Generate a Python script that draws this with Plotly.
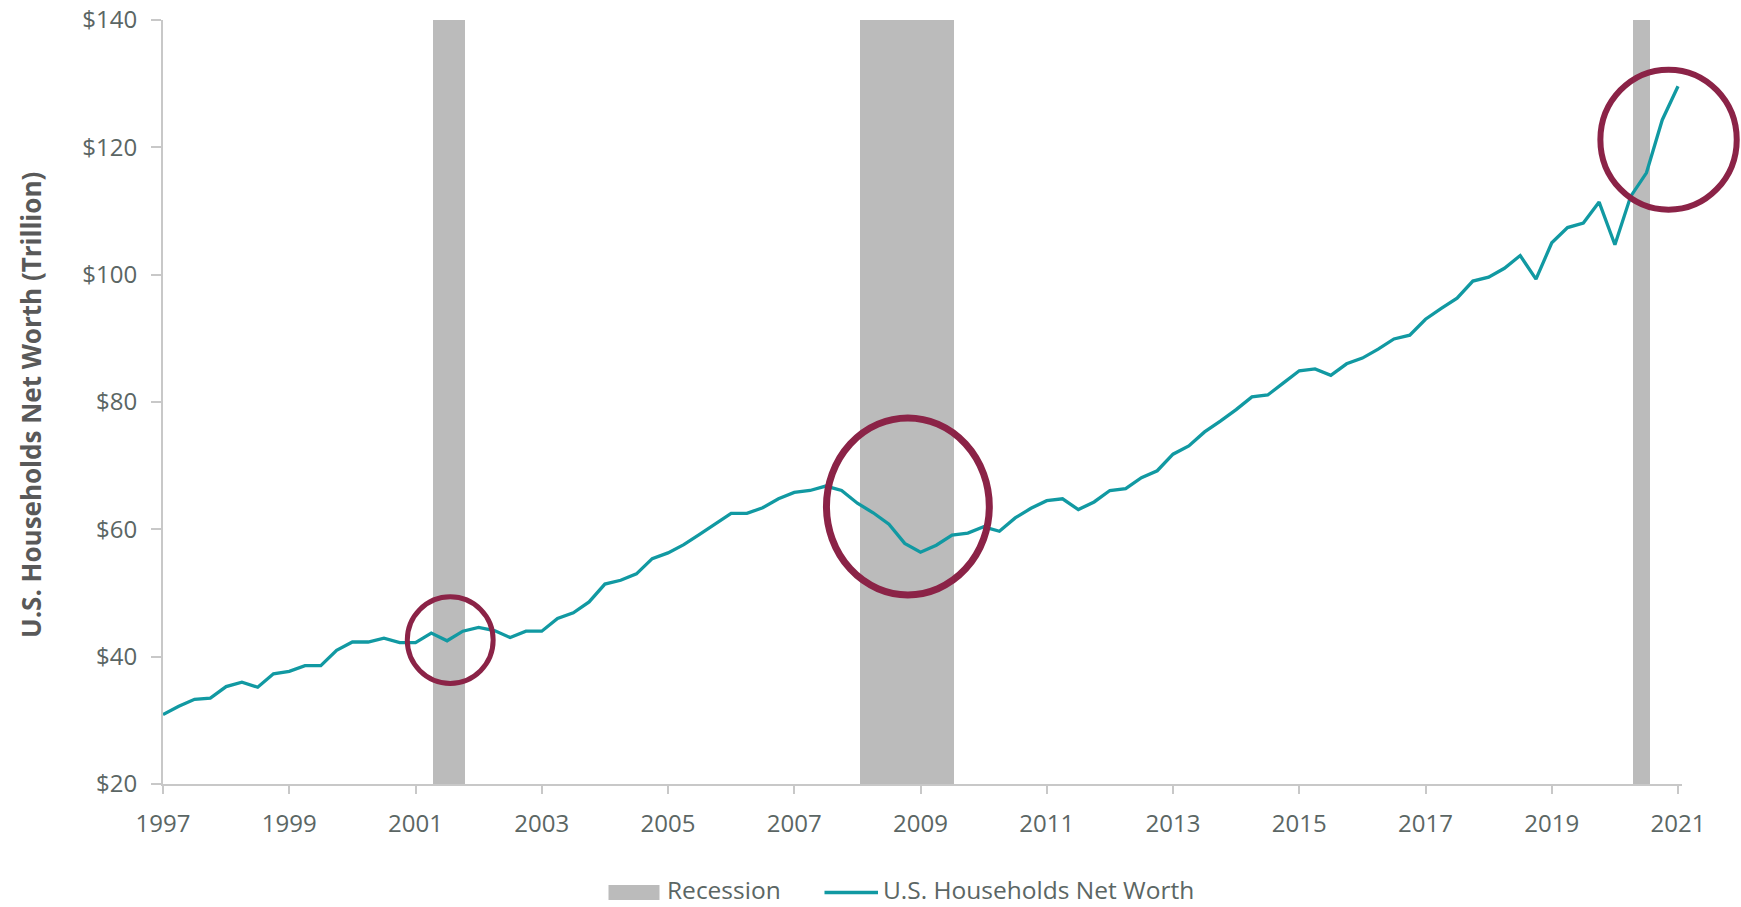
import plotly.graph_objects as go

# ---------------- data ----------------
first_year, last_year = 1997, 2021
quarter = [y + q / 4 for y in range(first_year, last_year) for q in range(4)] + [float(last_year)]

net_worth = [
    30.9, 32.2, 33.3, 33.5,   # 1997
    35.3, 36.0, 35.2, 37.3,   # 1998
    37.7, 38.6, 38.6, 41.0,   # 1999
    42.3, 42.3, 42.9, 42.2,   # 2000
    42.2, 43.7, 42.5, 44.0,   # 2001
    44.6, 44.1, 43.0, 44.0,   # 2002
    44.0, 46.0, 46.9, 48.6,   # 2003
    51.4, 52.0, 53.0, 55.4,   # 2004
    56.3, 57.6, 59.2, 60.8,   # 2005
    62.5, 62.5, 63.4, 64.8,   # 2006
    65.8, 66.1, 66.8, 66.1,   # 2007
    64.1, 62.6, 60.8, 57.8,   # 2008
    56.4, 57.5, 59.1, 59.4,   # 2009
    60.4, 59.7, 61.8, 63.3,   # 2010
    64.5, 64.8, 63.1, 64.3,   # 2011
    66.1, 66.4, 68.1, 69.2,   # 2012
    71.8, 73.1, 75.3, 77.0,   # 2013
    78.8, 80.8, 81.1, 83.0,   # 2014
    84.9, 85.2, 84.2, 86.0,   # 2015
    86.9, 88.3, 89.9, 90.5,   # 2016
    93.0, 94.7, 96.3, 99.0,   # 2017
    99.6, 101.0, 103.0, 99.3, # 2018
    105.0, 107.4, 108.1, 111.4,  # 2019
    104.7, 112.3, 116.0, 124.3,  # 2020
    129.6,                     # 2021
]

rec_start = [2001.28, 2008.04, 2020.28]
rec_end = [2001.78, 2009.53, 2020.56]

# highlight ellipses (data units)
circ_year = [2001.55, 2008.80, 2020.85]
circ_value = [42.6, 63.6, 121.2]
circ_rx_years = [0.68, 1.29, 1.08]
circ_ry_value = [6.8, 13.9, 11.0]

x_ticks = list(range(1997, 2022, 2))
y_ticks = [20, 40, 60, 80, 100, 120, 140]

series_name = "U.S. Households Net Worth"
recession_name = "Recession"
y_title = "U.S. Households Net Worth (Trillion)"

# ---------------- styling ----------------
W, H = 1741, 907
M_L, M_R, M_T, M_B = 163, 59, 20, 123
PW, PH = W - M_L - M_R, H - M_T - M_B
X_RANGE = [1997, 2021.063]
Y_RANGE = [20, 140]

TEAL = "#1199A2"
GREY = "#BBBBBB"
MAROON = "#8B2347"
AXIS = "#C8C8C8"
TXT = "#5B6664"
FONT = "Open Sans, Noto Sans, sans-serif"


def dx2paper(x):
    return (x - X_RANGE[0]) / (X_RANGE[1] - X_RANGE[0])


def dy2paper(y):
    return (y - Y_RANGE[0]) / (Y_RANGE[1] - Y_RANGE[0])


def px2paper_x(X):
    return (X - M_L) / PW


def px2paper_y(Y):
    return (H - M_B - Y) / PH


fig = go.Figure()

# recession shading
fig.add_trace(go.Bar(
    x=[(s + e) / 2 for s, e in zip(rec_start, rec_end)],
    y=[Y_RANGE[1] - Y_RANGE[0]] * len(rec_start),
    base=Y_RANGE[0],
    width=[e - s for s, e in zip(rec_start, rec_end)],
    marker=dict(color=GREY, line=dict(width=0)),
    name=recession_name,
    showlegend=False,
    hoverinfo="skip",
))

fig.add_trace(go.Scatter(
    x=quarter, y=net_worth, mode="lines",
    line=dict(color=TEAL, width=3.3),
    name=series_name, showlegend=False,
))

shapes = []
circ_widths = [5, 7, 6]
for cx, cy, rx, ry, lw in zip(circ_year, circ_value, circ_rx_years, circ_ry_value, circ_widths):
    shapes.append(dict(
        type="circle", xref="paper", yref="paper",
        x0=dx2paper(cx - rx), x1=dx2paper(cx + rx),
        y0=dy2paper(cy - ry), y1=dy2paper(cy + ry),
        line=dict(color=MAROON, width=lw), layer="above",
    ))

# manual legend
LEG_Y = 892.5
LEG_TXT_Y = 889.5
shapes.append(dict(type="rect", xref="paper", yref="paper",
                   x0=px2paper_x(608.5), x1=px2paper_x(659.5),
                   y0=px2paper_y(LEG_Y + 7.5), y1=px2paper_y(LEG_Y - 7.5),
                   fillcolor=GREY, line=dict(width=0)))
shapes.append(dict(type="line", xref="paper", yref="paper",
                   x0=px2paper_x(824.5), x1=px2paper_x(878),
                   y0=px2paper_y(LEG_Y), y1=px2paper_y(LEG_Y),
                   line=dict(color=TEAL, width=3.5)))

annotations = [
    dict(text=recession_name, xref="paper", yref="paper",
         x=px2paper_x(665), y=px2paper_y(LEG_TXT_Y), xanchor="left", yanchor="middle",
         showarrow=False, font=dict(family=FONT, size=24.5, color=TXT)),
    dict(text=series_name, xref="paper", yref="paper",
         x=px2paper_x(881), y=px2paper_y(LEG_TXT_Y), xanchor="left", yanchor="middle",
         showarrow=False, font=dict(family=FONT, size=24.5, color=TXT)),
    dict(text="<b>" + y_title + "</b>", xref="paper", yref="paper",
         x=px2paper_x(31), y=px2paper_y(405), xanchor="center", yanchor="middle",
         textangle=-90, showarrow=False,
         font=dict(family=FONT, size=26, color="#595959")),
]

fig.update_layout(
    width=W, height=H,
    margin=dict(l=M_L, r=M_R, t=M_T, b=M_B, pad=0, autoexpand=False),
    paper_bgcolor="white", plot_bgcolor="white",
    showlegend=False,
    shapes=shapes, annotations=annotations,
    font=dict(family=FONT, size=24, color=TXT),
    bargap=0,
)

fig.update_xaxes(
    range=X_RANGE, tickmode="array", tickvals=x_ticks,
    ticktext=[str(t) for t in x_ticks],
    showgrid=False, zeroline=False, automargin=False,
    showline=True, linecolor=AXIS, linewidth=2,
    ticks="outside", ticklen=8, tickwidth=2, tickcolor=AXIS,
    tickfont=dict(family=FONT, size=24, color=TXT),
    ticklabelstandoff=9,
)
fig.update_yaxes(
    range=Y_RANGE, tickmode="array", tickvals=y_ticks,
    ticktext=["$" + str(t) for t in y_ticks],
    showgrid=False, zeroline=False, automargin=False,
    showline=True, linecolor=AXIS, linewidth=2,
    ticks="outside", ticklen=10, tickwidth=2, tickcolor=AXIS,
    tickfont=dict(family=FONT, size=24, color=TXT),
    ticklabelstandoff=9,
)

fig.write_html(
    "out.html",
    config={"displayModeBar": False},
    post_script="document.body.style.margin='0';document.body.style.overflow='hidden';",
)
